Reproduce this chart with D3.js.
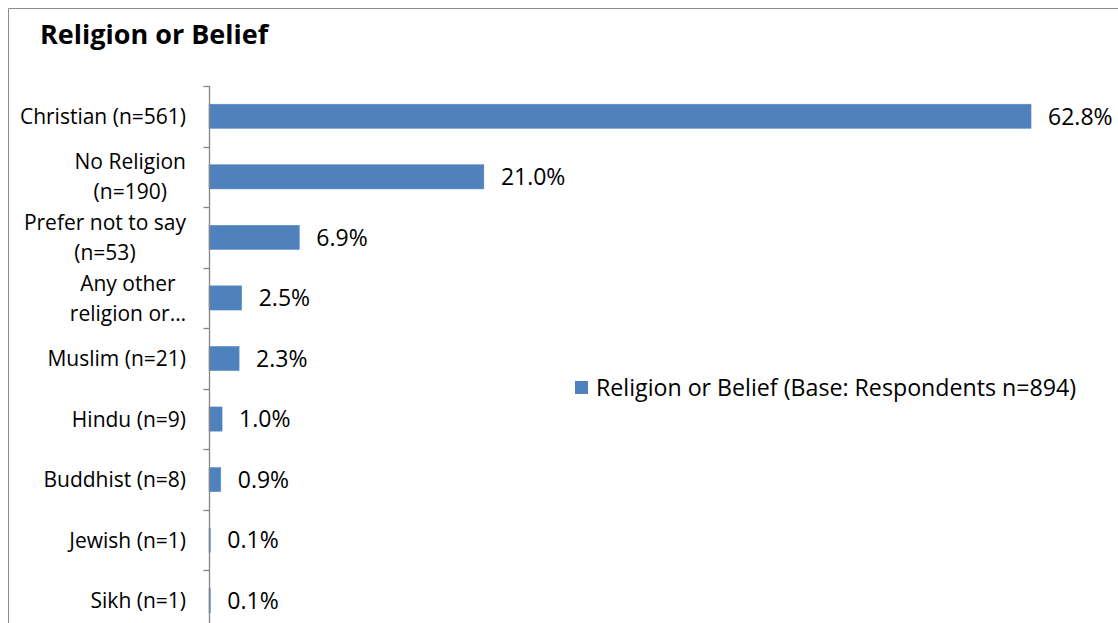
<!DOCTYPE html>
<html>
<head>
<meta charset="utf-8">
<script src="https://cdn.jsdelivr.net/npm/d3@7"></script>
<style>
  html, body { margin: 0; padding: 0; background: #fff; }
  svg { display: block; font-family: "Open Sans", sans-serif; }
</style>
</head>
<body>
<svg id="chart" width="1118" height="623"></svg>
<script>
// Religion or Belief survey breakdown (percent of respondents)
const categories = [
  "Christian (n=561)",
  "No Religion (n=190)",
  "Prefer not to say (n=53)",
  "Any other religion or belief",
  "Muslim (n=21)",
  "Hindu (n=9)",
  "Buddhist (n=8)",
  "Jewish (n=1)",
  "Sikh (n=1)"
];
// Axis label lines as displayed (wrapped / truncated)
const categoryLabels = [
  ["Christian (n=561)"],
  ["No Religion", "(n=190)"],
  ["Prefer not to say", "(n=53)"],
  ["Any other", "religion or…"],
  ["Muslim (n=21)"],
  ["Hindu (n=9)"],
  ["Buddhist (n=8)"],
  ["Jewish (n=1)"],
  ["Sikh (n=1)"]
];
const values = [62.8, 21.0, 6.9, 2.5, 2.3, 1.0, 0.9, 0.1, 0.1];
const seriesName = "Religion or Belief (Base: Respondents n=894)";
const chartTitle = "Religion or Belief";

const svg = d3.select("#chart");
const barColor = "#4F81BD";
const axisColor = "#868686";
const axisFont = 21;
const valueFont = 23;
const legendFont = 23.2;

// chart area frame (top and left edges)
svg.append("line").attr("x1", 8.5).attr("x2", 1118).attr("y1", 8.5).attr("y2", 8.5)
  .attr("stroke", "#8c8c8c").attr("stroke-width", 1);
svg.append("line").attr("x1", 8.5).attr("x2", 8.5).attr("y1", 8.5).attr("y2", 623)
  .attr("stroke", "#8c8c8c").attr("stroke-width", 1);

// title
svg.append("text")
  .attr("x", 40).attr("y", 43.5)
  .attr("font-size", 27).attr("font-weight", "bold")
  .attr("fill", "#000")
  .text(chartTitle);

const x = d3.scaleLinear().domain([0, 70]).range([209, 209 + 70 * 13.09]);
const y = d3.scaleBand().domain(categories).range([86, 631]).paddingInner(0.6).paddingOuter(0.3);

// bars
svg.append("g").selectAll("rect")
  .data(values)
  .join("rect")
  .attr("x", x(0))
  .attr("y", (d, i) => y(categories[i]))
  .attr("width", d => x(d) - x(0))
  .attr("height", y.bandwidth())
  .attr("fill", barColor)
  .attr("stroke", "#5b8cc8")
  .attr("stroke-width", 0.5);

// value labels
svg.append("g").selectAll("text")
  .data(values)
  .join("text")
  .attr("x", d => x(d) + 17)
  .attr("y", (d, i) => y(categories[i]) + y.bandwidth() / 2)
  .attr("dy", "0.36em")
  .attr("font-size", valueFont)
  .attr("fill", "#000")
  .text(d => d.toFixed(1) + "%");

// category axis line and tick marks at band boundaries
const axisX = x(0) + 0.5;
const step = y.step();
const y0 = y.range()[0];
svg.append("line")
  .attr("x1", axisX).attr("x2", axisX)
  .attr("y1", y0).attr("y2", y.range()[1])
  .attr("stroke", axisColor).attr("stroke-width", 1.3);
svg.append("g").selectAll("line")
  .data(d3.range(categories.length + 1))
  .join("line")
  .attr("x1", axisX - 6).attr("x2", axisX)
  .attr("y1", i => Math.round(y0 + i * step) + 0.5)
  .attr("y2", i => Math.round(y0 + i * step) + 0.5)
  .attr("stroke", axisColor).attr("stroke-width", 1.3);

// category labels: block right-aligned near the axis, lines centred within it
const labelRight = 186;
const lineH = 30;
const labelG = svg.append("g").attr("font-size", axisFont).attr("fill", "#000");
categoryLabels.forEach((lines, i) => {
  const cy = y(categories[i]) + y.bandwidth() / 2;
  const t = labelG.append("text").attr("text-anchor", "middle");
  const spans = lines.map((s, k) =>
    t.append("tspan").attr("y", cy + (k - (lines.length - 1) / 2) * lineH).attr("dy", "0.36em").text(s));
  const w = d3.max(spans, s => s.node().getComputedTextLength());
  spans.forEach(s => s.attr("x", labelRight - w / 2));
});

// legend
const lg = svg.append("g").attr("transform", "translate(575,381)");
lg.append("rect").attr("width", 13).attr("height", 13).attr("fill", barColor);
lg.append("text").attr("x", 21).attr("y", 7).attr("dy", "0.36em")
  .attr("font-size", legendFont).attr("fill", "#000").text(seriesName);
</script>
</body>
</html>
